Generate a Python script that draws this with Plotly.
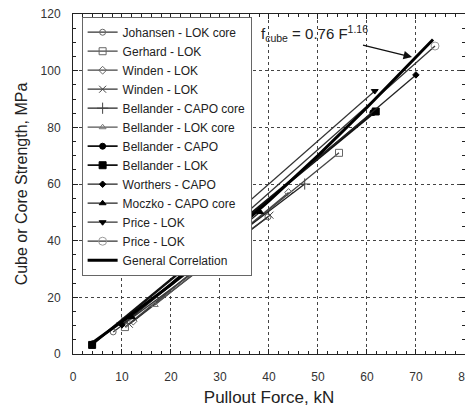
import plotly.graph_objects as go

# ---- data ----
series_names = [
    "Johansen - LOK core", "Gerhard - LOK", "Winden - LOK", "Winden - LOK",
    "Bellander - CAPO core", "Bellander - LOK core", "Bellander - CAPO",
    "Bellander - LOK", "Worthers - CAPO", "Moczko - CAPO core",
    "Price - LOK", "Price - LOK",
]
johansen_x = [8.2, 39.8];   johansen_y = [7.8, 48.4]
gerhard_x = [10.6, 54.3];   gerhard_y = [9.5, 71.0]
winden1_x = [12.3, 44.0];   winden1_y = [11.6, 57.0]
winden2_x = [11.5, 40.2];   winden2_y = [10.5, 49.0]
bell_capo_core_x = [10.0, 47.3]; bell_capo_core_y = [11.0, 60.0]
bell_lok_core_x = [16.7, 29.4];  bell_lok_core_y = [17.3, 35.0]
bell_capo_x = [4.0, 61.2];  bell_capo_y = [3.6, 85.2]
bell_lok_x = [3.9, 61.8];   bell_lok_y = [3.2, 85.6]
worthers_x = [10.0, 70.0];  worthers_y = [10.3, 98.5]
moczko_x = [12.0, 38.2];    moczko_y = [13.0, 50.1]
price1_x = [28.6, 61.6];    price1_y = [42.7, 92.8]
price2_x = [25.9, 73.9];    price2_y = [35.3, 108.7]
general_x = [3.5, 10, 20, 30, 40, 50, 60, 73.5]
general_y = [3.4, 11.5, 24.5, 39.0, 54.0, 70.0, 87.0, 111.0]

x_ticks = [0, 10, 20, 30, 40, 50, 60, 70, 80]
y_ticks = [0, 20, 40, 60, 80, 100, 120]

series_x = [johansen_x, gerhard_x, winden1_x, winden2_x, bell_capo_core_x,
            bell_lok_core_x, bell_capo_x, bell_lok_x, worthers_x, moczko_x,
            price1_x, price2_x]
series_y = [johansen_y, gerhard_y, winden1_y, winden2_y, bell_capo_core_y,
            bell_lok_core_y, bell_capo_y, bell_lok_y, worthers_y, moczko_y,
            price1_y, price2_y]

# styles
symbols = ["circle-open", "square-open", "diamond-open", "x-thin-open",
           "cross-thin-open", "triangle-up-open", "circle", "square",
           "diamond", "triangle-up", "triangle-down", "circle-open"]
msizes = [6, 7, 6, 7, 8, 6, 6, 7, 5, 6, 6, 8]
mcolors = ["#666", "#666", "#666", "#444", "#444", "#777", "#000", "#000",
           "#000", "#000", "#000", "#999"]
lcolors = ["#333", "#444", "#444", "#333", "#222", "#555", "#111", "#111",
           "#222", "#222", "#333", "#333"]
lwidths = [1.3, 1.3, 1.3, 1.3, 1.3, 1.3, 1.8, 1.8, 1.3, 1.3, 1.2, 1.3]

fig = go.Figure()
for i, name in enumerate(series_names):
    fig.add_trace(go.Scatter(
        x=series_x[i], y=series_y[i], mode="lines+markers", name=name,
        line=dict(color=lcolors[i], width=lwidths[i]),
        marker=dict(symbol=symbols[i], size=msizes[i], color=mcolors[i],
                    line=dict(color=mcolors[i], width=1)),
    ))
fig.add_trace(go.Scatter(
    x=general_x, y=general_y, mode="lines", name="General Correlation",
    line=dict(color="#000", width=3),
))

font_family = "Liberation Sans, Arial, sans-serif"
axis_common = dict(
    showline=True, linecolor="#222", linewidth=1, mirror="ticks",
    ticks="inside", ticklen=5, tickcolor="#222",
    showgrid=True, gridcolor="#444", griddash="dot", gridwidth=1,
    zeroline=False, automargin=False, ticklabeloverflow="allow",
    tickfont=dict(family=font_family, size=12, color="#333"),
)

fig.update_xaxes(
    range=[0, 80.02], tickvals=x_ticks, ticktext=[str(v) for v in x_ticks],
    minor=dict(dtick=2, ticks="inside", ticklen=3, tickcolor="#222", showgrid=False),
    title=dict(text="Pullout Force, kN", font=dict(family=font_family, size=17, color="#222"),
               standoff=12),
    ticklabelstandoff=12,
    **axis_common,
)
fig.update_yaxes(
    range=[0, 120], tickvals=y_ticks, ticktext=[str(v) for v in y_ticks],
    minor=dict(dtick=5, ticks="inside", ticklen=3, tickcolor="#222", showgrid=False),
    title=dict(text="Cube or Core Strength, MPa", font=dict(family=font_family, size=16, color="#222"),
               standoff=8),
    ticklabelstandoff=9,
    **axis_common,
)

fig.add_annotation(
    x=69.2, y=104.8, xref="x", yref="y",
    text="f<sub>cube</sub> = 0.76 F<sup>1.16</sup>",
    showarrow=True, ax=-98, ay=-24, arrowhead=2, arrowsize=1.3,
    arrowwidth=1.3, arrowcolor="#111",
    font=dict(family=font_family, size=15, color="#222"),
)

fig.update_layout(
    width=465, height=407,
    margin=dict(l=73, r=0, t=14, b=53, autoexpand=False),
    paper_bgcolor="white", plot_bgcolor="white",
    font=dict(family=font_family, color="#222"),
    showlegend=True,
    legend=dict(x=0.022, y=0.992, xanchor="left", yanchor="top",
                bgcolor="white", bordercolor="#666", borderwidth=1,
                font=dict(family=font_family, size=12, color="#222"),
                tracegroupgap=0),
)

fig.write_html(
    "out.html",
    config={"displayModeBar": False},
    post_script="document.body.style.margin='0';document.body.style.padding='0';"
                "document.body.style.overflow='hidden';"
                "document.documentElement.style.overflow='hidden';",
)
